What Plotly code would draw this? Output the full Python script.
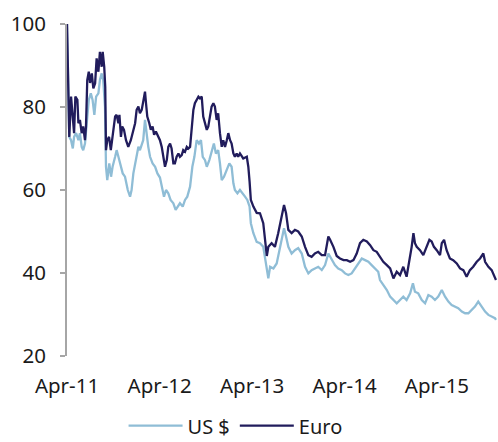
import plotly.graph_objects as go

# ---- data (index, start = 100) ----
usd_dates = [
    "2011-04-01", "2011-04-10", "2011-04-17", "2011-04-24", "2011-04-29", "2011-05-07", "2011-05-16",
    "2011-05-22", "2011-05-29", "2011-06-04", "2011-06-11", "2011-06-18", "2011-06-26", "2011-07-04",
    "2011-07-11", "2011-07-18", "2011-07-25", "2011-08-03", "2011-08-09", "2011-08-16", "2011-08-22",
    "2011-08-29", "2011-09-02", "2011-09-07", "2011-09-15", "2011-09-22", "2011-09-28", "2011-10-08",
    "2011-10-14", "2011-10-21", "2011-10-27", "2011-11-07", "2011-11-16", "2011-11-27", "2011-12-06",
    "2011-12-12", "2011-12-19", "2011-12-26", "2012-01-01", "2012-01-08", "2012-01-14", "2012-01-21",
    "2012-01-27", "2012-02-03", "2012-02-10", "2012-02-16", "2012-02-23", "2012-03-04", "2012-03-14",
    "2012-03-23", "2012-04-02", "2012-04-11", "2012-04-18", "2012-04-26", "2012-05-05", "2012-05-14",
    "2012-05-25", "2012-06-03", "2012-06-11", "2012-06-20", "2012-07-01", "2012-07-10", "2012-07-19",
    "2012-07-30", "2012-08-08", "2012-08-16", "2012-08-25", "2012-09-03", "2012-09-11", "2012-09-18",
    "2012-09-27", "2012-10-04", "2012-10-14", "2012-10-23", "2012-11-01", "2012-11-09", "2012-11-18",
    "2012-11-25", "2012-12-02", "2012-12-11", "2012-12-22", "2013-01-01", "2013-01-10", "2013-01-17",
    "2013-01-23", "2013-02-02", "2013-02-12", "2013-02-23", "2013-03-04", "2013-03-13", "2013-03-22",
    "2013-03-27", "2013-04-06", "2013-04-19", "2013-05-02", "2013-05-15", "2013-05-29", "2013-06-04",
    "2013-06-11", "2013-06-24", "2013-07-07", "2013-07-20", "2013-07-31", "2013-08-05", "2013-08-13",
    "2013-08-22", "2013-09-04", "2013-09-17", "2013-09-30", "2013-10-14", "2013-10-27", "2013-11-09",
    "2013-11-22", "2013-12-05", "2013-12-18", "2014-01-01", "2014-01-14", "2014-01-27", "2014-02-09",
    "2014-02-22", "2014-03-07", "2014-03-21", "2014-04-03", "2014-04-16", "2014-04-29", "2014-05-12",
    "2014-05-25", "2014-06-08", "2014-06-21", "2014-07-04", "2014-07-17", "2014-07-30", "2014-08-12",
    "2014-08-19", "2014-09-01", "2014-09-15", "2014-09-28", "2014-10-11", "2014-10-24", "2014-11-06",
    "2014-11-19", "2014-12-02", "2014-12-16", "2014-12-27", "2015-01-04", "2015-01-17", "2015-01-31",
    "2015-02-13", "2015-02-26", "2015-03-11", "2015-03-24", "2015-04-06", "2015-04-20", "2015-05-03",
    "2015-05-16", "2015-05-29", "2015-06-11", "2015-06-24", "2015-07-08", "2015-07-21", "2015-08-03",
    "2015-08-16", "2015-08-29", "2015-09-11", "2015-09-25", "2015-10-08", "2015-10-21", "2015-11-03",
    "2015-11-16", "2015-11-20",
]
usd_values = [
    100, 72.8, 72.0, 70.0, 72.8, 73.7, 72.0,
    73.7, 70.4, 69.6, 71.2, 76.1, 81.7, 83.3,
    81.7, 78.1, 82.5, 83.3, 86.5, 88.1, 86.5,
    80.1, 65.6, 62.4, 66.4, 63.2, 65.6, 68.0,
    69.6, 68.0, 66.4, 64.0, 63.2, 60.0, 58.4,
    60.0, 64.0, 66.4, 68.8, 70.4, 69.6, 71.2,
    72.0, 76.9, 72.8, 70.4, 68.0, 66.4, 65.6,
    64.0, 63.0, 60.8, 58.4, 60.0, 59.2, 57.6,
    56.8, 55.2, 56.0, 56.8, 56.0, 57.6, 58.4,
    60.8, 65.6, 68.0, 72.0, 71.2, 72.0, 68.0,
    67.2, 65.6, 67.2, 69.6, 71.2, 68.8, 69.6,
    66.4, 62.4, 63.2, 64.8, 66.4, 65.6, 61.6,
    60.0, 59.2, 60.0, 59.2, 58.4, 57.6, 56.0,
    52.0, 49.6, 47.5, 47.2, 46.3, 40.7, 38.7,
    41.5, 41.1, 42.3, 46.3, 49.6, 50.8, 48.8,
    46.3, 44.7, 45.5, 46.0, 44.7, 41.5, 39.9,
    40.7, 41.1, 41.5, 40.7, 41.9, 44.7, 43.1,
    41.9, 41.1, 40.7, 39.9, 39.5, 39.9, 41.1,
    42.3, 43.5, 43.1, 42.7, 41.9, 41.1, 40.3,
    38.3, 37.1, 35.9, 34.3, 33.5, 32.7, 33.5,
    34.3, 33.5, 35.1, 37.5, 35.5, 35.1, 33.5,
    32.7, 34.7, 34.3, 33.5, 34.3, 35.9, 34.3,
    33.1, 32.3, 31.9, 31.5, 30.7, 30.3, 30.3,
    31.1, 31.9, 33.1, 31.9, 30.7, 29.9, 29.5,
    29.1, 28.7,
]

eur_dates = [
    "2011-04-01", "2011-04-10", "2011-04-17", "2011-04-24", "2011-04-29", "2011-05-04", "2011-05-12",
    "2011-05-16", "2011-05-22", "2011-05-29", "2011-06-04", "2011-06-11", "2011-06-15", "2011-06-20",
    "2011-06-26", "2011-07-01", "2011-07-08", "2011-07-14", "2011-07-21", "2011-07-27", "2011-08-03",
    "2011-08-09", "2011-08-16", "2011-08-20", "2011-08-26", "2011-08-30", "2011-09-02", "2011-09-07",
    "2011-09-14", "2011-09-21", "2011-09-28", "2011-10-08", "2011-10-14", "2011-10-21", "2011-10-25",
    "2011-10-31", "2011-11-05", "2011-11-12", "2011-11-20", "2011-11-29", "2011-12-09", "2011-12-16",
    "2011-12-26", "2012-01-01", "2012-01-08", "2012-01-14", "2012-01-21", "2012-01-27", "2012-02-03",
    "2012-02-07", "2012-02-12", "2012-02-20", "2012-02-26", "2012-03-04", "2012-03-10", "2012-03-17",
    "2012-03-27", "2012-04-02", "2012-04-09", "2012-04-15", "2012-04-22", "2012-04-29", "2012-05-05",
    "2012-05-12", "2012-05-18", "2012-05-25", "2012-05-31", "2012-06-07", "2012-06-14", "2012-06-20",
    "2012-06-27", "2012-07-03", "2012-07-10", "2012-07-17", "2012-07-23", "2012-07-30", "2012-08-05",
    "2012-08-12", "2012-08-18", "2012-08-25", "2012-09-01", "2012-09-07", "2012-09-14", "2012-09-20",
    "2012-09-27", "2012-10-04", "2012-10-10", "2012-10-17", "2012-10-23", "2012-10-30", "2012-11-05",
    "2012-11-12", "2012-11-18", "2012-11-25", "2012-12-02", "2012-12-08", "2012-12-15", "2012-12-22",
    "2012-12-28", "2013-01-04", "2013-01-10", "2013-01-17", "2013-01-23", "2013-01-30", "2013-02-05",
    "2013-02-12", "2013-02-25", "2013-03-11", "2013-03-17", "2013-03-22", "2013-03-27", "2013-04-06",
    "2013-04-19", "2013-05-02", "2013-05-15", "2013-05-29", "2013-06-04", "2013-06-17", "2013-06-30",
    "2013-07-13", "2013-07-27", "2013-08-05", "2013-08-13", "2013-08-22", "2013-09-04", "2013-09-17",
    "2013-09-30", "2013-10-14", "2013-10-27", "2013-11-09", "2013-11-22", "2013-12-05", "2013-12-18",
    "2014-01-01", "2014-01-14", "2014-01-27", "2014-02-03", "2014-02-16", "2014-03-01", "2014-03-14",
    "2014-03-28", "2014-04-10", "2014-04-23", "2014-05-06", "2014-05-19", "2014-06-01", "2014-06-14",
    "2014-06-28", "2014-07-11", "2014-07-24", "2014-08-06", "2014-08-19", "2014-09-01", "2014-09-15",
    "2014-09-28", "2014-10-11", "2014-10-24", "2014-11-06", "2014-11-19", "2014-12-02", "2014-12-09",
    "2014-12-16", "2014-12-22", "2014-12-29", "2015-01-04", "2015-01-11", "2015-01-24", "2015-02-06",
    "2015-02-19", "2015-03-02", "2015-03-11", "2015-03-20", "2015-03-31", "2015-04-13", "2015-04-20",
    "2015-04-29", "2015-05-09", "2015-05-22", "2015-06-04", "2015-06-18", "2015-07-01", "2015-07-14",
    "2015-07-27", "2015-08-09", "2015-08-22", "2015-09-05", "2015-09-18", "2015-10-01", "2015-10-08",
    "2015-10-21", "2015-11-03", "2015-11-16", "2015-11-20",
]
eur_values = [
    100, 72.8, 82.5, 77.7, 73.7, 82.5, 81.7,
    76.1, 76.9, 73.7, 75.3, 72.0, 75.3, 86.5,
    88.5, 85.8, 88.1, 84.5, 85.7, 91.7, 88.5,
    93.3, 89.7, 93.3, 89.7, 84.9, 69.6, 72.0,
    72.8, 69.6, 72.8, 77.7, 78.1, 76.1, 78.1,
    72.8, 75.3, 74.5, 72.0, 70.4, 72.0, 73.7,
    76.1, 79.3, 80.1, 78.5, 79.3, 81.3, 83.7,
    80.9, 77.7, 76.1, 74.5, 75.3, 73.3, 74.1,
    72.8, 72.0, 70.4, 68.0, 65.6, 67.2, 70.4,
    71.2, 70.0, 66.4, 66.4, 68.0, 68.8, 68.0,
    68.4, 69.6, 69.2, 70.4, 70.0, 70.4, 75.3,
    79.3, 80.9, 81.7, 82.5, 82.1, 82.5, 77.7,
    76.1, 74.5, 75.3, 78.5, 80.1, 80.9, 80.1,
    76.9, 78.5, 73.7, 70.4, 72.0, 70.4, 72.0,
    73.7, 72.0, 71.2, 68.8, 68.0, 68.8, 68.0,
    68.8, 67.6, 68.0, 65.6, 62.0, 57.6, 56.0,
    54.5, 54.4, 52.0, 44.1, 46.3, 47.2, 46.3,
    49.6, 53.6, 56.4, 54.4, 50.4, 49.6, 50.4,
    50.0, 48.8, 46.3, 44.3, 43.9, 44.7, 45.1,
    44.3, 44.3, 48.8, 48.0, 46.3, 44.1, 43.5,
    43.1, 43.1, 42.7, 43.1, 44.7, 47.2, 48.0,
    47.6, 46.7, 45.5, 45.1, 43.9, 42.7, 41.9,
    41.1, 38.7, 40.3, 39.5, 41.5, 39.1, 41.5,
    43.9, 46.3, 49.6, 47.2, 46.3, 45.5, 44.3,
    46.3, 48.0, 47.6, 46.3, 45.5, 44.3, 47.2,
    48.0, 45.5, 43.5, 43.1, 42.3, 41.1, 40.7,
    39.1, 40.7, 41.5, 42.7, 43.5, 44.7, 42.7,
    41.5, 40.7, 38.7, 38.3,
]

y_ticks = [20, 40, 60, 80, 100]
x_ticks = ["2011-04-01", "2012-04-01", "2013-04-01", "2014-04-01", "2015-04-01"]
x_tick_labels = ["Apr-11", "Apr-12", "Apr-13", "Apr-14", "Apr-15"]
x_range = ["2011-04-01", "2015-11-24"]

FONT = "Noto Sans, Open Sans, sans-serif"

fig = go.Figure()
fig.add_trace(go.Scatter(x=usd_dates, y=usd_values, name="US $", mode="lines",
                         line=dict(color="#8fbdd6", width=2.3)))
fig.add_trace(go.Scatter(x=eur_dates, y=eur_values, name="Euro", mode="lines",
                         line=dict(color="#211c5c", width=2.3)))

fig.update_layout(
    width=498, height=442,
    margin=dict(l=67, r=1, t=24, b=86, autoexpand=False),
    paper_bgcolor="white", plot_bgcolor="white",
    font=dict(family=FONT, size=20.5, color="#1a1a1a"),
    showlegend=True,
    legend=dict(orientation="h", x=0.392, xanchor="center", y=-0.21, yanchor="middle",
                font=dict(size=20), itemwidth=54, traceorder="normal"),
)
fig.update_xaxes(
    type="date", range=x_range, tickvals=x_ticks, ticktext=x_tick_labels,
    showgrid=False, zeroline=False, showline=False,
    ticks="outside", ticklen=11, tickcolor="rgba(0,0,0,0)",
)
fig.update_yaxes(
    range=[20, 100], tickvals=y_ticks, showgrid=False, zeroline=False,
    showline=True, linecolor="#a6a6a6", linewidth=2,
    ticks="outside", ticklen=5, tickcolor="#a6a6a6", tickwidth=2,
    ticklabelstandoff=10,
)

fig.write_html("out.html", config={"displayModeBar": False},
               post_script="document.body.style.margin='0';")
